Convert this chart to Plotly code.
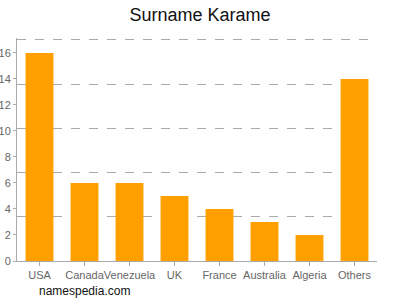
import plotly.graph_objects as go

categories = ["USA", "Canada", "Venezuela", "UK", "France", "Australia", "Algeria", "Others"]
values = [16, 6, 6, 5, 4, 3, 2, 14]
y_ticks = [0, 2, 4, 6, 8, 10, 12, 14, 16]

fig = go.Figure()
# invisible helper trace so the gridline axis (main y) is drawn beneath the bars
fig.add_trace(go.Scatter(x=[categories[0]], y=[0], mode="none", yaxis="y",
                         hoverinfo="skip", showlegend=False))
fig.add_trace(go.Bar(x=categories, y=values, marker_color="#FFA000", marker_line_width=0,
                     yaxis="y2"))

fig.update_layout(
    width=400, height=300,
    margin=dict(l=17, r=23, t=38, b=39),
    paper_bgcolor="white", plot_bgcolor="white",
    font=dict(family="Liberation Sans, Arial", size=11, color="#666"),
    title=dict(text="Surname Karame", x=0.5, xanchor="center", y=0.95, yanchor="middle",
               font=dict(size=18, color="#111")),
    bargap=0.38,
    showlegend=False,
    xaxis=dict(showline=True, linecolor="#aaa", linewidth=1, ticks="outside", ticklen=4,
               tickcolor="#aaa", tickfont=dict(size=11, color="#666"), showgrid=False,
               tickangle=0, automargin=False),
    yaxis=dict(range=[0, 17.15], tick0=0, dtick=3.4,
               showgrid=True, gridcolor="#aaa", griddash="dash", gridwidth=1,
               showticklabels=False, showline=False, zeroline=False, ticks="",
               automargin=False),
    yaxis2=dict(range=[0, 17.15], overlaying="y", side="left", tickvals=y_ticks,
                showgrid=False, showline=True, linecolor="#aaa", linewidth=1,
                ticks="outside", ticklen=3, tickcolor="#aaa", zeroline=False,
                tickfont=dict(size=11, color="#666"), automargin=False),
    annotations=[dict(text="namespedia.com", xref="paper", yref="paper", x=0.055, y=-0.135,
                      xanchor="left", yanchor="middle", showarrow=False,
                      font=dict(size=12, color="#111"))],
)

fig.write_html("out.html")
